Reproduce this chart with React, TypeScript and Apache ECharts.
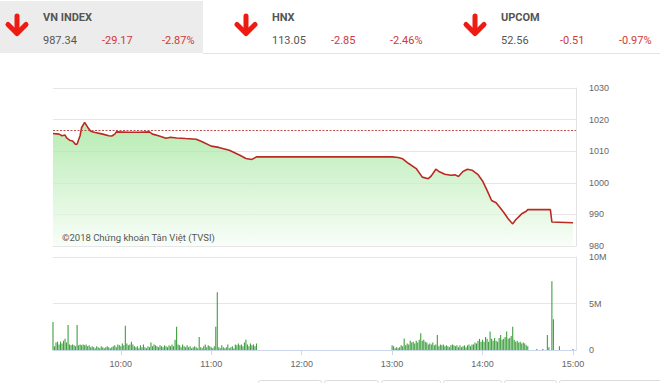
import React, { useEffect, useRef } from 'react';
import * as echarts from 'echarts';

// ---------- data ----------
const INDEX_NAMES = ['VN INDEX', 'HNX', 'UPCOM'];
const INDEX_VALUES = ['987.34', '113.05', '52.56'];
const INDEX_CHANGES = ['-29.17', '-2.85', '-0.51'];
const INDEX_PCTS = ['-2.87%', '-2.46%', '-0.97%'];

const X_TICKS = ['10:00', '11:00', '12:00', '13:00', '14:00', '15:00'];
const X_START = '09:15';
const X_END = '15:02';

const REF_PRICE = 1016.51;

const PRICE_TIME = [
  '09:15', '09:19', '09:21', '09:23', '09:24', '09:26', '09:28', '09:30', '09:31', '09:33',
  '09:34', '09:36', '09:38', '09:40', '09:43', '09:48', '09:52', '09:54', '09:56', '09:57',
  '10:05', '10:12', '10:19', '10:21', '10:25', '10:30', '10:33', '10:37', '10:43', '10:50',
  '10:54', '11:00', '11:05', '11:12', '11:19', '11:23', '11:27', '11:30', '13:00', '13:04',
  '13:07', '13:11', '13:16', '13:20', '13:24', '13:26', '13:29', '13:31', '13:35', '13:39',
  '13:42', '13:44', '13:47', '13:50', '13:53', '13:57', '13:58', '14:00', '14:03', '14:06',
  '14:09', '14:11', '14:14', '14:17', '14:19', '14:20', '14:22', '14:25', '14:26', '14:29',
  '14:30', '14:45', '14:46', '15:00',
];
const PRICE_VALUE = [
  1015.6, 1015.4, 1014.9, 1015.1, 1014.2, 1013.5, 1013.2, 1012.1, 1012.3, 1015.0,
  1017.5, 1019.1, 1017.6, 1016.3, 1015.9, 1015.4, 1014.9, 1014.8, 1015.4, 1016.1,
  1016.0, 1016.0, 1016.1, 1015.4, 1014.9, 1014.1, 1014.4, 1014.2, 1014.0, 1013.8,
  1013.0, 1011.6, 1011.2, 1010.3, 1008.7, 1007.7, 1007.4, 1008.2, 1008.2, 1008.0,
  1007.6, 1006.1, 1004.5, 1001.8, 1001.3, 1002.2, 1004.3, 1003.6, 1002.7, 1002.4,
  1002.5, 1002.0, 1003.6, 1004.3, 1004.0, 1002.6, 1001.9, 1000.6, 997.6, 994.4,
  993.7, 992.5, 990.7, 988.6, 987.5, 987.0, 988.3, 989.7, 990.2, 991.0,
  991.5, 991.5, 987.6, 987.34,
];

// volume in millions, one bar per minute
const AM_START = '09:15';
const AM_VOL = [
  3.0, 0.4, 0.8, 0.9, 0.6, 0.9, 0.7, 1.0, 1.2, 0.8,
  2.7, 0.6, 0.5, 0.6, 0.5, 0.4, 2.7, 0.5, 0.6, 0.5,
  0.6, 0.5, 0.6, 0.4, 0.5, 0.3, 0.4, 0.3, 0.2, 0.4,
  0.3, 0.2, 0.4, 0.3, 0.2, 0.3, 0.4, 0.3, 0.2, 0.3,
  0.4, 0.5, 0.3, 0.6, 0.5, 0.4, 0.7, 0.5, 2.6, 0.7,
  0.5, 0.6, 0.9, 0.6, 0.4, 0.3, 0.4, 0.2, 0.5, 0.3,
  0.6, 0.3, 0.2, 0.4, 0.3, 0.8, 0.4, 0.6, 0.5, 0.4,
  0.3, 0.5, 0.4, 0.3, 0.5, 0.4, 0.3, 0.5, 0.4, 0.6,
  0.4, 1.1, 2.5, 0.6, 0.5, 0.3, 0.6, 0.4, 0.3, 0.5,
  0.3, 0.4, 0.2, 0.3, 0.4, 0.3, 0.2, 1.4, 0.3, 0.2,
  0.4, 0.6, 0.3, 0.5, 0.4, 0.3, 0.2, 0.4, 2.5, 6.2,
  0.3, 0.2, 0.5, 0.3, 0.2, 0.3, 0.6, 0.2, 0.3, 0.4,
  0.2, 0.6, 0.5, 0.7, 0.5, 0.6, 0.4, 0.8, 1.1, 0.6,
  0.4, 0.7, 0.5, 0.6, 0.4, 0.7,
];
const PM_START = '13:00';
const PM_VOL = [
  0.5, 0.4, 0.2, 0.3, 0.2, 0.3, 0.5, 0.4, 1.25, 0.5,
  0.7, 0.6, 1.0, 0.8, 0.9, 0.7, 1.0, 0.8, 1.1, 1.8,
  1.0, 1.1, 0.9, 0.8, 0.6, 0.7, 0.6, 0.8, 0.5, 0.6,
  1.6, 0.4, 0.6, 0.5, 0.6, 0.4, 0.5, 0.4, 0.3, 0.5,
  0.6, 0.5, 0.4, 0.5, 0.3, 0.5, 0.3, 0.4, 0.5, 0.3,
  0.5, 0.6, 0.4, 0.6, 0.6, 0.8, 0.7, 1.0, 1.2, 0.9,
  1.1, 0.9, 1.4, 1.2, 0.9, 2.0, 1.2, 1.0, 1.3, 1.0,
  0.9, 1.3, 1.6, 1.1, 1.2, 1.4, 2.0, 1.2, 1.3, 1.5,
  2.5, 1.1, 0.9, 1.0, 0.8, 0.9, 0.7, 0.8, 0.7, 0.5,
  0.4,
];
const ATC_TIME = ['14:36', '14:40', '14:43', '14:44', '14:46', '14:47', '14:51', '15:00'];
const ATC_VOL = [0.1, 0.1, 1.6, 0.3, 7.4, 3.3, 0.4, 0.1];

// ---------- helpers ----------
const toMin = (t: string) => {
  const [h, m] = t.split(':').map(Number);
  return h * 60 + m;
};
const fmtMin = (v: number) => `${Math.floor(v / 60)}:${String(Math.round(v % 60)).padStart(2, '0')}`;

const FONT = 'Roboto, "Liberation Sans", Arial, sans-serif';
const AXIS_FONT = '"Liberation Sans", Arial, sans-serif';

function arrow(cx: number) {
  return {
    type: 'group',
    children: [
      {
        type: 'line',
        shape: { x1: cx, y1: 16, x2: cx, y2: 33 },
        style: { stroke: '#ee1b12', lineWidth: 5, lineCap: 'round' },
      },
      {
        type: 'polyline',
        shape: { points: [[cx - 9, 24.5], [cx, 33.5], [cx + 9, 24.5]] },
        style: { stroke: '#ee1b12', lineWidth: 5, lineCap: 'round', lineJoin: 'round', fill: 'none' },
      },
    ],
  };
}

export default function App() {
  const ref = useRef<HTMLDivElement>(null);

  useEffect(() => {
    if (!ref.current) return;
    const chart = echarts.init(ref.current, undefined, { renderer: 'svg' });

    const xMin = toMin(X_START);
    const xMax = toMin(X_END);
    const tickVals = X_TICKS.map(toMin);

    const priceData = PRICE_TIME.map((t, i) => [toMin(t), PRICE_VALUE[i]]);
    const amStart = toMin(AM_START);
    const pmStart = toMin(PM_START);
    const volData: number[][] = [
      ...AM_VOL.map((v, i) => [amStart + i, v]),
      ...PM_VOL.map((v, i) => [pmStart + i, v]),
      ...ATC_TIME.map((t, i) => [toMin(t), ATC_VOL[i]]),
    ];

    const headerX = [
      { arrow: 17, text: 43, chg: 102, pct: 162 },
      { arrow: 246, text: 272, chg: 331, pct: 390 },
      { arrow: 475, text: 501, chg: 560, pct: 619 },
    ];

    const graphics: any[] = [
      { type: 'rect', shape: { x: 0, y: 1, width: 203, height: 52 }, style: { fill: '#ececec' } },
      { type: 'line', shape: { x1: 203, y1: 53.5, x2: 660, y2: 53.5 }, style: { stroke: '#e4e4e4', lineWidth: 1 } },
    ];
    INDEX_NAMES.forEach((name, i) => {
      const p = headerX[i];
      graphics.push(arrow(p.arrow));
      graphics.push({
        type: 'text', x: p.text, y: 17,
        style: { text: name, fill: '#555', font: `bold 11px ${FONT}`, textVerticalAlign: 'middle' },
      });
      graphics.push({
        type: 'text', x: p.text, y: 40,
        style: { text: INDEX_VALUES[i], fill: '#555', font: `11px ${FONT}`, textVerticalAlign: 'middle' },
      });
      graphics.push({
        type: 'text', x: p.chg, y: 40,
        style: { text: INDEX_CHANGES[i], fill: '#d0383a', font: `11px ${FONT}`, textVerticalAlign: 'middle' },
      });
      graphics.push({
        type: 'text', x: p.pct, y: 40,
        style: { text: INDEX_PCTS[i], fill: '#d0383a', font: `11px ${FONT}`, textVerticalAlign: 'middle' },
      });
    });
    graphics.push({
      type: 'text', x: 62, y: 237, z: 10,
      style: { text: '©2018 Chứng khoán Tân Việt (TVSI)', fill: '#555', font: `9.5px ${FONT}`, textVerticalAlign: 'middle' },
    });
    [[258, 321], [324, 378], [381, 440], [443, 501], [504, 556], [559, 662]].forEach(([a, b]) => {
      graphics.push({
        type: 'rect', shape: { x: a + 0.5, y: 380.5, width: b - a, height: 12, r: 2 },
        style: { fill: '#fff', stroke: '#dcdcdc', lineWidth: 1 },
      });
    });

    const option: any = {
      animation: false,
      backgroundColor: '#fff',
      grid: [
        { left: 53, right: 84, top: 88, height: 158 },
        { left: 53, right: 84, top: 257, height: 93 },
      ],
      xAxis: [
        {
          type: 'value', gridIndex: 0, min: xMin, max: xMax,
          axisLine: { show: false }, axisTick: { show: false }, axisLabel: { show: false }, splitLine: { show: false },
        },
        {
          type: 'value', gridIndex: 1, min: xMin, max: xMax,
          axisLine: { show: true, lineStyle: { color: '#ccd6eb', width: 1 } },
          axisTick: { show: true, customValues: tickVals, length: 5, lineStyle: { color: '#ccd6eb' } },
          axisLabel: {
            show: true, customValues: tickVals, formatter: (v: number) => fmtMin(v),
            color: '#666', fontSize: 9, fontFamily: AXIS_FONT, margin: 9,
          },
          splitLine: { show: false },
        },
      ],
      yAxis: [
        {
          type: 'value', gridIndex: 0, position: 'right', min: 980, max: 1030, interval: 10,
          axisLine: { show: true, lineStyle: { color: '#e3e3e3' } },
          axisTick: { show: false },
          axisLabel: {
            color: '#666', fontSize: 9, fontFamily: AXIS_FONT, margin: 13,
            formatter: (v: number) => String(v),
          },
          splitLine: { lineStyle: { color: '#e6e6e6' } },
        },
        {
          type: 'value', gridIndex: 1, position: 'right', min: 0, max: 10, interval: 5,
          axisLine: { show: true, lineStyle: { color: '#e3e3e3' } },
          axisTick: { show: false },
          axisLabel: {
            color: '#666', fontSize: 9, fontFamily: AXIS_FONT, margin: 13,
            formatter: (v: number) => (v === 0 ? '0' : `${v}M`),
          },
          splitLine: { lineStyle: { color: '#e6e6e6' } },
        },
      ],
      series: [
        {
          type: 'line', xAxisIndex: 0, yAxisIndex: 0, data: priceData,
          symbol: 'none', lineStyle: { color: '#bb2a22', width: 1.6 },
          areaStyle: {
            color: new echarts.graphic.LinearGradient(0, 0, 0, 1, [
              { offset: 0, color: '#98e392' },
              { offset: 1, color: '#f6fdf5' },
            ]),
          },
          markLine: {
            silent: true, symbol: ['none', 'none'], label: { show: false },
            lineStyle: { color: '#c0504d', type: [2, 1.5], width: 1 },
            data: [{ yAxis: REF_PRICE }],
          },
          z: 3,
        },
        {
          type: 'bar', xAxisIndex: 1, yAxisIndex: 1, data: volData,
          barWidth: 1.1, itemStyle: { color: '#3f9f3f' },
        },
      ],
      graphic: graphics,
    };

    chart.setOption(option);
    return () => chart.dispose();
  }, []);

  return (
    <div
      ref={ref}
      style={{ position: 'fixed', left: 0, top: 0, width: 660, height: 383, background: '#fff' }}
    />
  );
}
